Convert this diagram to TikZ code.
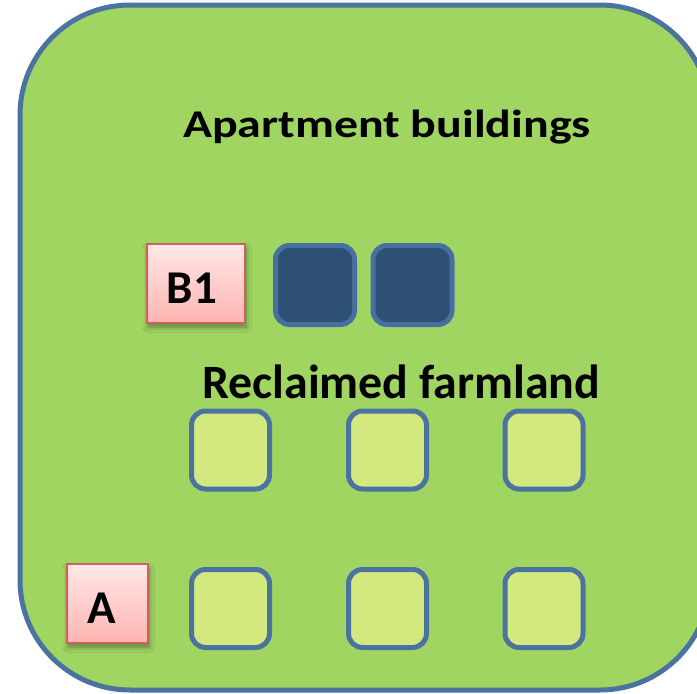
\documentclass[tikz,border=0pt]{standalone}
\usepackage{fontspec}
\setmainfont{Carlito}
\usetikzlibrary{shadows.blur}
\definecolor{bggreen}{HTML}{A0D562}
\definecolor{edgeblue}{HTML}{4A73A0}
\definecolor{lightsq}{HTML}{D3E87F}
\definecolor{darksq}{HTML}{2E5075}
\definecolor{darkedge}{HTML}{4670A0}
\definecolor{pinktop}{HTML}{FFE8E8}
\definecolor{pinkbot}{HTML}{FFB4B0}
\definecolor{pinkedge}{HTML}{D0605C}
\tikzset{
  bigtext/.style={anchor=base west, inner sep=0pt, font=\fontsize{47.9}{58}\selectfont\bfseries},
  tagtext/.style={anchor=base, inner sep=0pt, font=\fontsize{47}{56}\selectfont\bfseries},
  lsq/.style={draw=edgeblue, fill=lightsq, line width=5pt, rounded corners=14pt, minimum size=78pt, inner sep=0pt},
  dsq/.style={draw=darkedge, fill=darksq, line width=5pt, rounded corners=14pt, minimum size=79pt, inner sep=0pt},
  tag/.style={draw=pinkedge, line width=1.5pt, top color=pinktop, bottom color=pinkbot,
    minimum height=79pt, inner sep=0pt,
    blur shadow={shadow xshift=1pt, shadow yshift=-4pt, shadow blur steps=8, shadow blur radius=5pt, shadow opacity=40}}
}
\begin{document}
\begin{tikzpicture}[x=1pt,y=-1pt]
\useasboundingbox (0,0) rectangle (697,694);
\path[fill=bggreen, draw=edgeblue, line width=5pt, rounded corners=110pt] (20,5) rectangle (710,690);
\node[bigtext] (apt) at (183,137) {\scalebox{1}[0.82]{Apartment buildings}};
\node[bigtext] (farm) at (202,398) {Reclaimed farmland};
\node[tag, minimum width=98pt] (b1) at (196,283.5) {};
\node[tagtext] (b1t) at (192,303) {B1};
\node[dsq] (d1) at (315,285) {};
\node[dsq] (d2) at (412.5,285) {};
\node[lsq] (m1) at (230.5,450) {};
\node[lsq] (m2) at (387.5,450) {};
\node[lsq] (m3) at (544,450) {};
\node[tag, minimum width=81pt] (a) at (107.5,603.5) {};
\node[tagtext] (at) at (101.5,623) {A};
\node[lsq] (l1) at (230.5,608.5) {};
\node[lsq] (l2) at (387.5,608.5) {};
\node[lsq] (l3) at (544,608.5) {};
\end{tikzpicture}
\end{document}
